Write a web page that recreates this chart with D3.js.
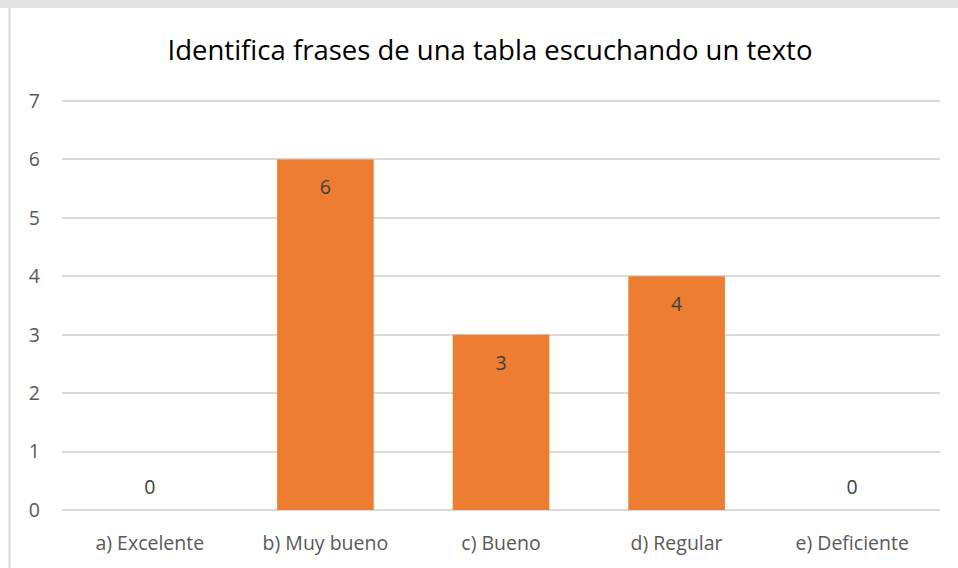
<!DOCTYPE html>
<html>
<head>
  <meta charset="utf-8">
  <style>
    body { margin: 0; background: #fff; }
    text { font-family: "Open Sans", "Liberation Sans", sans-serif; }
    .grid line { stroke: #d9d9d9; stroke-width: 2px; shape-rendering: crispEdges; }
    .tick-label { fill: #595959; font-size: 19.5px; }
    .data-label { fill: #404040; font-size: 19.5px; }
  </style>
  <script src="https://cdn.jsdelivr.net/npm/d3@7"></script>
</head>
<body>
  <div id="chart"></div>
  <script>
    // datos del grafico
    var categories = ["a) Excelente", "b) Muy bueno", "c) Bueno", "d) Regular", "e) Deficiente"];
    var values = [0, 6, 3, 4, 0];
    var yTicks = [0, 1, 2, 3, 4, 5, 6, 7];
    var title = "Identifica frases de una tabla escuchando un texto";

    var W = 958, H = 568;
    var margin = { top: 101, right: 18, bottom: 58, left: 62 };
    var width = W - margin.left - margin.right;
    var height = H - margin.top - margin.bottom;

    var svg = d3.select("#chart").append("svg")
      .attr("width", W)
      .attr("height", H);

    // marco del grafico
    svg.append("rect")
      .attr("x", 0).attr("y", 0)
      .attr("width", W).attr("height", 8)
      .attr("fill", "#e3e3e3");
    svg.append("line")
      .attr("x1", 9.5).attr("x2", 9.5)
      .attr("y1", 8).attr("y2", H)
      .attr("stroke", "#d9d9d9")
      .attr("stroke-width", 2);

    var x = d3.scaleBand().domain(categories).range([0, width]).paddingInner(0.45).paddingOuter(0.225);
    var y = d3.scaleLinear().domain([0, 7]).range([height, 0]);

    var g = svg.append("g")
      .attr("transform", "translate(" + margin.left + "," + margin.top + ")");

    // lineas de cuadricula
    g.append("g").attr("class", "grid")
      .selectAll("line")
      .data(yTicks)
      .enter().append("line")
      .attr("x1", 0).attr("x2", width)
      .attr("y1", function(d) { return Math.round(y(d)); })
      .attr("y2", function(d) { return Math.round(y(d)); });

    // etiquetas eje y
    g.selectAll(".ylab")
      .data(yTicks)
      .enter().append("text")
      .attr("class", "tick-label")
      .attr("x", -22)
      .attr("y", function(d) { return y(d); })
      .attr("dy", "0.35em")
      .attr("text-anchor", "end")
      .text(function(d) { return d; });

    // barras
    g.selectAll(".bar")
      .data(values)
      .enter().append("rect")
      .attr("class", "bar")
      .attr("x", function(d, i) { return x(categories[i]); })
      .attr("y", function(d) { return y(d); })
      .attr("width", x.bandwidth())
      .attr("height", function(d) { return height - y(d); })
      .attr("fill", "#ed7d31");

    // etiquetas de datos
    g.selectAll(".data-label")
      .data(values)
      .enter().append("text")
      .attr("class", "data-label")
      .attr("x", function(d, i) { return x(categories[i]) + x.bandwidth() / 2; })
      .attr("y", function(d) { return d > 0 ? y(d) + 28 : y(d) - 23; })
      .attr("dy", "0.35em")
      .attr("text-anchor", "middle")
      .text(function(d) { return d; });

    // etiquetas eje x
    g.selectAll(".xlab")
      .data(categories)
      .enter().append("text")
      .attr("class", "tick-label")
      .attr("x", function(d) { return x(d) + x.bandwidth() / 2; })
      .attr("y", height + 33)
      .attr("dy", "0.35em")
      .attr("text-anchor", "middle")
      .text(function(d) { return d; });

    // titulo
    svg.append("text")
      .attr("x", 490)
      .attr("y", 50)
      .attr("dy", "0.35em")
      .attr("text-anchor", "middle")
      .attr("fill", "#000")
      .style("font-size", "27.5px")
      .text(title);
  </script>
</body>
</html>
